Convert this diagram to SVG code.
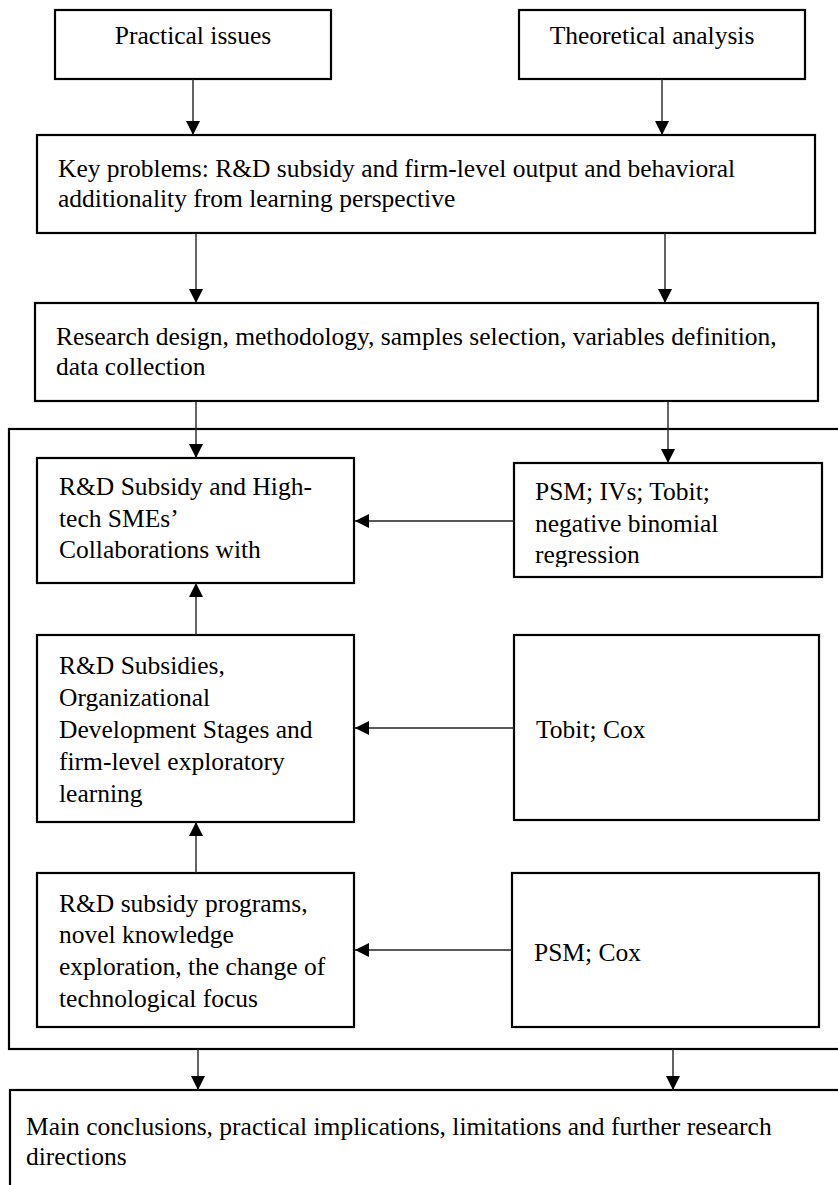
<svg xmlns="http://www.w3.org/2000/svg" width="838" height="1185" viewBox="0 0 838 1185">
<style>
.box{fill:#fff;stroke:#000;stroke-width:2.2}
.frame{fill:none;stroke:#000;stroke-width:2.2}
.t{font-family:'Liberation Serif','DejaVu Serif','Times New Roman',serif;font-size:25.5px;fill:#000}
.c{stroke:#222;stroke-width:1.4;fill:none}
</style>
<defs>
<marker id="ah" viewBox="0 0 10 10" refX="10" refY="5" markerWidth="14" markerHeight="14" markerUnits="userSpaceOnUse" orient="auto">
<path d="M0,0 L10,5 L0,10 z" fill="#000"/>
</marker>
<clipPath id="clipPsm"><rect x="514" y="463" width="308" height="104"/></clipPath>
</defs>
<rect width="838" height="1185" fill="#fff"/>

<g id="frame"><rect class="frame" x="9" y="429" width="840" height="620"/></g>

<g font-family="Liberation Serif, DejaVu Serif, serif">
<g id="practical"><rect class="box" x="55" y="10" width="276" height="69"/><text class="t" x="193" y="44" text-anchor="middle">Practical issues</text></g>
<g id="theoretical"><rect class="box" x="519" y="10" width="286" height="69"/><text class="t" x="652" y="44" text-anchor="middle">Theoretical analysis</text></g>
<g id="key"><rect class="box" x="37" y="135" width="778" height="98"/><text class="t" x="58" y="177">Key problems: R&amp;D subsidy and firm-level output and behavioral</text><text class="t" x="58" y="207">additionality from learning perspective</text></g>
<g id="research"><rect class="box" x="35" y="303" width="783" height="98"/><text class="t" x="56" y="345">Research design, methodology, samples selection, variables definition,</text><text class="t" x="56" y="375">data collection</text></g>

<g id="study1"><rect class="box" x="37" y="458" width="317" height="125"/><text class="t" x="59" y="495">R&amp;D Subsidy and High-</text><text class="t" x="59" y="527">tech SMEs’</text><text class="t" x="59" y="558">Collaborations with</text></g>
<g id="method1"><rect class="box" x="514" y="463" width="308" height="114"/><g clip-path="url(#clipPsm)"><text class="t" x="535" y="500">PSM; IVs; Tobit;</text><text class="t" x="535" y="532">negative binomial</text><text class="t" x="535" y="563">regression</text></g></g>

<g id="study2"><rect class="box" x="37" y="635" width="317" height="187"/><text class="t" x="59" y="674">R&amp;D Subsidies,</text><text class="t" x="59" y="706">Organizational</text><text class="t" x="59" y="738">Development Stages and</text><text class="t" x="59" y="770">firm-level exploratory</text><text class="t" x="59" y="802">learning</text></g>
<g id="method2"><rect class="box" x="514" y="635" width="305" height="185"/><text class="t" x="536" y="738">Tobit; Cox</text></g>

<g id="study3"><rect class="box" x="37" y="873" width="317" height="154"/><text class="t" x="59" y="912">R&amp;D subsidy programs,</text><text class="t" x="59" y="943">novel knowledge</text><text class="t" x="59" y="975">exploration, the change of</text><text class="t" x="59" y="1007">technological focus</text></g>
<g id="method3"><rect class="box" x="512" y="873" width="307" height="154"/><text class="t" x="534" y="961">PSM; Cox</text></g>

<g id="conclusions"><rect class="box" x="10" y="1090" width="840" height="120"/><text class="t" x="26" y="1135">Main conclusions, practical implications, limitations and further research</text><text class="t" x="26" y="1165">directions</text></g>
</g>

<g id="connectors">
<line class="c" x1="193" y1="79" x2="193" y2="135" marker-end="url(#ah)"/>
<line class="c" x1="662" y1="79" x2="662" y2="135" marker-end="url(#ah)"/>
<line class="c" x1="196" y1="233" x2="196" y2="303" marker-end="url(#ah)"/>
<line class="c" x1="665" y1="233" x2="665" y2="303" marker-end="url(#ah)"/>
<line class="c" x1="196" y1="401" x2="196" y2="458" marker-end="url(#ah)"/>
<line class="c" x1="668" y1="401" x2="668" y2="463" marker-end="url(#ah)"/>
<line class="c" x1="514" y1="521" x2="355" y2="521" marker-end="url(#ah)"/>
<line class="c" x1="514" y1="728" x2="355" y2="728" marker-end="url(#ah)"/>
<line class="c" x1="512" y1="950" x2="355" y2="950" marker-end="url(#ah)"/>
<line class="c" x1="196" y1="635" x2="196" y2="583" marker-end="url(#ah)"/>
<line class="c" x1="196" y1="873" x2="196" y2="822" marker-end="url(#ah)"/>
<line class="c" x1="198" y1="1049" x2="198" y2="1090" marker-end="url(#ah)"/>
<line class="c" x1="673" y1="1049" x2="673" y2="1090" marker-end="url(#ah)"/>
</g>
</svg>
